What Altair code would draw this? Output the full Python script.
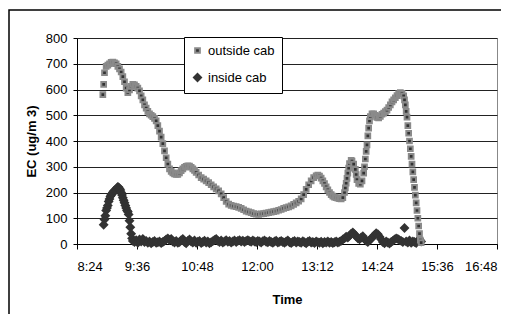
import altair as alt
import pandas as pd

FONT = "Liberation Sans"

# time in minutes after midnight (8:24 = 504, 16:48 = 1008)
outside_t = [535, 536, 537, 539, 541, 543, 545, 547, 549, 551, 553, 555, 557, 559, 561, 563, 565, 567, 569, 571,
             573, 575, 577, 579, 581, 583, 585, 587, 589, 591, 593, 595, 597, 599, 601, 603, 605, 607, 609, 611,
             613, 615, 617, 619, 621, 623, 625, 627, 629, 631, 633, 635, 637, 639, 641, 643, 645, 647, 650, 653,
             656, 659, 662, 665, 668, 671, 674, 677, 680, 683, 686, 689, 692, 695, 698, 701, 704, 707, 710, 713,
             716, 719, 722, 725, 728, 731, 734, 737, 740, 743, 746, 749, 752, 755, 758, 761, 764, 767, 770, 773,
             776, 779, 782, 785, 788, 791, 793, 795, 797, 799, 801, 803, 805, 807, 809, 811, 813, 815, 817, 819,
             821, 823, 825, 826, 827, 828, 829, 830, 831, 833, 834, 836, 838, 839, 840, 842, 844, 846, 848, 849,
             850, 851, 852, 853, 854, 855, 856, 858, 860, 862, 864, 866, 868, 870, 872, 874, 876, 878, 880, 882,
             884, 886, 888, 890, 892, 894, 896, 897, 898, 899, 900, 901, 902, 903, 904, 905, 906, 907, 908, 909,
             910, 911, 912, 913, 914, 915, 916, 917]
outside_v = [580, 620, 665, 690, 695, 700, 705, 706, 704, 700, 690, 680, 668, 650, 630, 605, 588, 598, 612, 620,
             618, 612, 605, 595, 575, 560, 540, 528, 515, 505, 500, 495, 488, 478, 460, 438, 415, 390, 362, 335,
             310, 292, 282, 276, 272, 270, 270, 276, 285, 292, 298, 302, 304, 303, 298, 292, 286, 278, 268, 258,
             252, 245, 238, 230, 222, 214, 206, 195, 180, 165, 155, 150, 147, 145, 142, 138, 133, 128, 125, 122,
             118, 116, 115, 117, 118, 120, 122, 124, 126, 128, 131, 134, 138, 141, 144, 148, 154, 160, 166, 175,
             192, 212, 230, 245, 258, 265, 268, 264, 256, 245, 235, 222, 210, 200, 192, 186, 182, 180, 178, 176,
             175, 180, 200, 218, 236, 255, 275, 295, 312, 325, 322, 310, 290, 270, 250, 235, 232, 245, 275, 300,
             330, 360, 385, 420, 450, 478, 495, 505, 505, 500, 492, 490, 496, 504, 508, 514, 520, 530, 540, 552,
             560, 568, 576, 584, 588, 585, 575, 560, 540, 515, 493, 460, 430, 400, 370, 340, 310, 280, 250, 220,
             190, 160, 130, 100, 70, 40, 15, 5]

inside_t = [536, 537, 538, 539, 540, 541, 542, 543, 544, 545, 546, 547, 548, 549, 550, 551, 552, 553, 554, 555,
            556, 557, 558, 559, 560, 561, 562, 563, 564, 565, 566, 567, 568, 569, 570, 571, 573, 575, 577, 579,
            581, 583, 585, 587, 589, 591, 593, 595, 597, 599, 601, 603, 605, 607, 609, 611, 613, 615, 617, 619,
            621, 623, 625, 627, 629, 631, 633, 635, 637, 639, 641, 643, 645, 647, 649, 651, 653, 655, 657, 659,
            661, 663, 665, 667, 669, 671, 673, 675, 677, 679, 681, 683, 685, 687, 689, 691, 693, 695, 697, 699,
            701, 703, 705, 707, 709, 711, 713, 715, 717, 719, 721, 723, 725, 727, 729, 731, 733, 735, 737, 739,
            741, 743, 745, 747, 749, 751, 753, 755, 757, 759, 761, 763, 765, 767, 769, 771, 773, 775, 777, 779,
            781, 783, 785, 787, 789, 791, 793, 795, 797, 799, 801, 803, 805, 807, 809, 811, 813, 815, 817, 819,
            821, 823, 825, 827, 829, 831, 833, 835, 837, 839, 841, 843, 845, 847, 849, 851, 853, 855, 857, 859,
            861, 863, 865, 867, 869, 871, 873, 875, 877, 879, 881, 883, 885, 887, 889, 891, 893, 895, 897, 899,
            901, 903, 905, 907, 909, 911, 913, 915, 917]
inside_v = [75, 95, 110, 130, 140, 150, 165, 175, 185, 190, 195, 200, 205, 205, 210, 212, 218, 222, 220, 215,
            210, 200, 190, 180, 170, 160, 150, 140, 130, 125, 115, 90, 65, 40, 22, 12, 8, 15, 5, 18,
            10, 20, 8, 12, 5, 10, 3, 8, 12, 5, 7, 10, 4, 8, 12, 18, 22, 15, 20, 10,
            6, 12, 5, 8, 15, 20, 8, 3, 12, 18, 10, 6, 14, 5, 9, 12, 4, 8, 13, 6,
            10, 3, 7, 11, 16, 20, 12, 8, 14, 6, 10, 15, 9, 12, 6, 10, 14, 8, 12, 15,
            10, 13, 8, 12, 15, 11, 9, 14, 10, 8, 12, 10, 6, 11, 14, 9, 7, 12, 8, 5,
            10, 13, 6, 9, 12, 8, 5, 10, 14, 7, 4, 9, 12, 6, 10, 8, 5, 11, 7, 3,
            9, 12, 6, 8, 4, 10, 7, 5, 9, 3, 8, 6, 10, 5, 8, 4, 7, 10, 6, 9,
            12, 18, 22, 28, 25, 32, 40, 45, 38, 30, 22, 18, 25, 30, 20, 12, 8, 15, 20, 28,
            35, 42, 38, 28, 18, 8, 3, 10, 6, 2, 8, 12, 18, 22, 20, 15, 12, 8, 62, 10,
            6, 14, 5, 10, 8, 4, 12, 18, 10]

x_ticks = [504, 576, 648, 720, 792, 864, 936, 1008]
y_ticks = [0, 100, 200, 300, 400, 500, 600, 700, 800]
series_names = ["outside cab", "inside cab"]

df = pd.concat([
    pd.DataFrame({"t": inside_t, "v": inside_v, "series": series_names[1]}),
    pd.DataFrame({"t": outside_t, "v": outside_v, "series": series_names[0]}),
], ignore_index=True)

legend = alt.Legend(orient="none", legendX=107, legendY=-1, title=None,
                    strokeColor="black", fillColor="white", padding=7,
                    labelFont=FONT, labelFontSize=13, labelColor="black",
                    rowPadding=11, labelOffset=4, symbolStrokeWidth=2)

points = alt.Chart(df).mark_point(filled=True, strokeWidth=2, opacity=1).encode(
    x=alt.X("t:Q",
            scale=alt.Scale(domain=[504, 1008], nice=False, zero=False),
            axis=alt.Axis(values=x_ticks, grid=False, title="Time",
                          labelExpr="floor(datum.value/60) + ':' + (datum.value % 60 < 10 ? '0' : '') + (datum.value % 60)",
                          tickSize=5, labelPadding=11, titleX=210, titleY=55,
                          titleBaseline="middle")),
    y=alt.Y("v:Q",
            scale=alt.Scale(domain=[0, 800], nice=False),
            axis=alt.Axis(values=y_ticks, grid=True, gridColor="#222222", title="EC (ug/m 3)",
                          tickSize=4, labelPadding=6, titleX=-46, titleY=103,
                          titleAlign="center", titleBaseline="middle", titleAngle=270)),
    shape=alt.Shape("series:N", scale=alt.Scale(domain=series_names, range=["square", "diamond"]), legend=legend),
    fill=alt.Fill("series:N", scale=alt.Scale(domain=series_names, range=["#333333", "#333333"]), legend=legend),
    stroke=alt.Stroke("series:N", scale=alt.Scale(domain=series_names, range=["#8a8a8a", "#333333"]), legend=legend),
    size=alt.Size("series:N", scale=alt.Scale(domain=series_names, range=[22, 50]), legend=legend),
    order=alt.Order("idx:Q"),
).transform_window(idx="row_number()")

frame = alt.Chart(pd.DataFrame({"a": [0]})).mark_rect(
    fill="white", fillOpacity=0, stroke="black", strokeWidth=1.5
).encode(x=alt.value(-68), x2=alt.value(470), y=alt.value(-28), y2=alt.value(340))

chart = alt.layer(points, frame).properties(
    width=420, height=206,
    padding={"left": 69, "top": 30, "right": 4, "bottom": 70},
    autosize="none",
).configure_view(stroke="#888888", strokeWidth=1).configure_axis(
    labelFont=FONT, labelFontSize=13, labelColor="black",
    titleFont=FONT, titleFontSize=13, titleFontWeight="bold", titleColor="black",
    domainColor="black", tickColor="black", domainWidth=1
)

chart.save("out.html", embed_options={"renderer": "svg", "actions": False})
